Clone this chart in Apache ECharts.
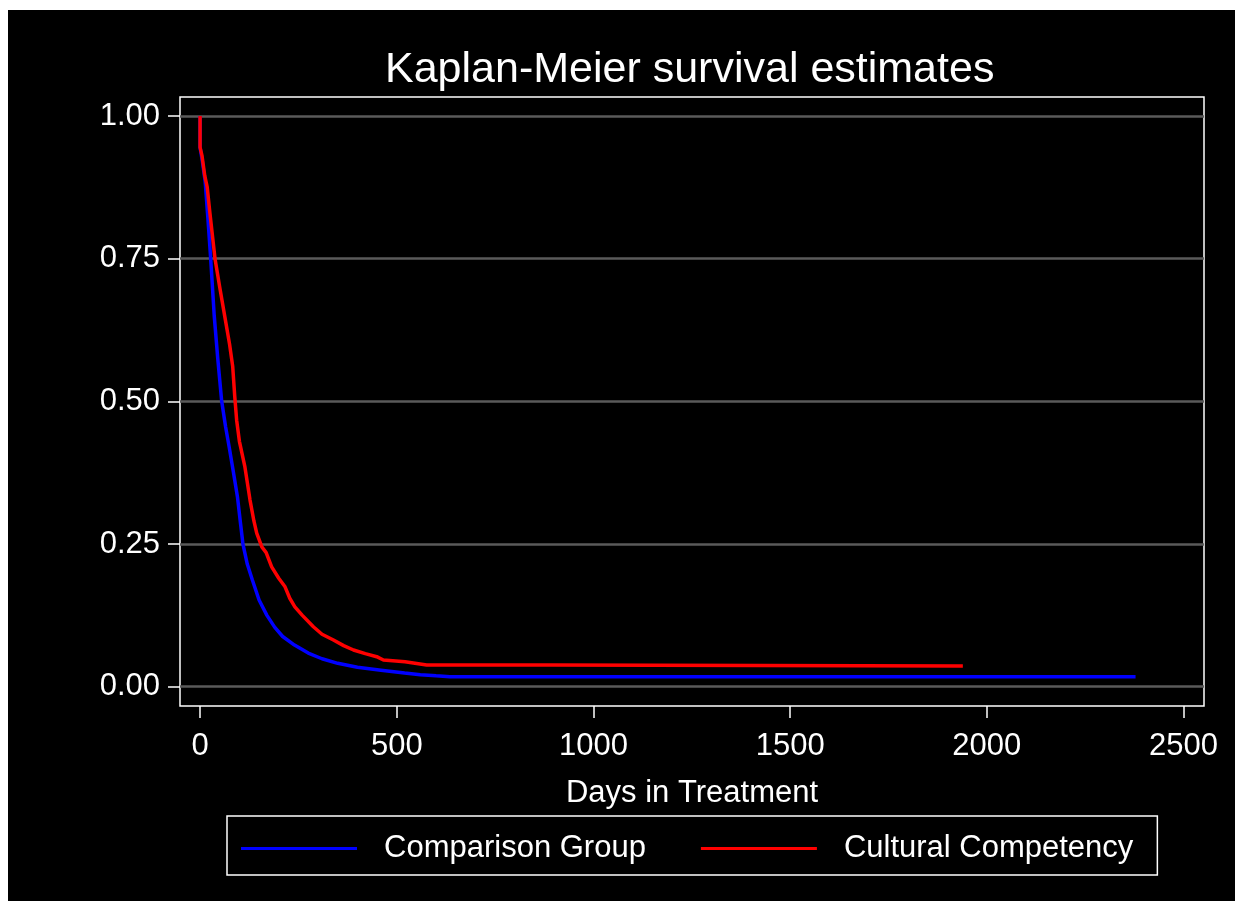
<!DOCTYPE html>
<html>
<head>
<meta charset="utf-8">
<script src="https://cdn.jsdelivr.net/npm/echarts@6/dist/echarts.min.js"></script>
<style>
  html, body { margin: 0; padding: 0; background: #ffffff; }
  #chart { position: absolute; left: 8px; top: 10px; width: 1227px; height: 891px; background: #000000; }
</style>
</head>
<body>
<div id="chart"></div>
<script>
// ---- data ----
const titleText = 'Kaplan-Meier survival estimates';
const xAxisName = 'Days in Treatment';
const seriesNames = ['Comparison Group', 'Cultural Competency'];
const xTicks = [0, 500, 1000, 1500, 2000, 2500];
const yTicks = [0, 0.25, 0.5, 0.75, 1];

// [day, survival probability] – KM curve points
const comparisonGroup = [
  [0, 1], [0, 0.945], [6, 0.92], [13, 0.885], [20, 0.82], [27, 0.75], [36, 0.65],
  [45, 0.575], [55, 0.5], [65, 0.455], [74, 0.42], [85, 0.375], [95, 0.333],
  [103, 0.285], [109, 0.25], [120, 0.215], [133, 0.187], [150, 0.152], [170, 0.125],
  [190, 0.104], [210, 0.088], [240, 0.073], [275, 0.059], [310, 0.049], [350, 0.041],
  [400, 0.034], [460, 0.029], [520, 0.024], [560, 0.021], [600, 0.019], [635, 0.0175],
  [2378, 0.0175]
];
const culturalCompetency = [
  [0, 1], [0, 0.945], [5, 0.93], [12, 0.895], [18, 0.876], [25, 0.83], [38, 0.75],
  [50, 0.7], [63, 0.648], [75, 0.6], [83, 0.561], [88, 0.51], [93, 0.467], [100, 0.43],
  [114, 0.385], [127, 0.327], [137, 0.29], [144, 0.269], [157, 0.245], [168, 0.235],
  [182, 0.21], [200, 0.19], [216, 0.175], [228, 0.155], [241, 0.14], [260, 0.125],
  [288, 0.105], [310, 0.092], [339, 0.0818], [365, 0.072], [390, 0.0643], [420, 0.058],
  [449, 0.0526], [466, 0.0468], [521, 0.0438], [576, 0.038], [894, 0.038], [894, 0.0363],
  [1939, 0.0363]
];

const FONT = "'Liberation Sans', Arial, Helvetica, sans-serif";
const chart = echarts.init(document.getElementById('chart'));
chart.setOption({
  backgroundColor: '#000000',
  animation: false,
  title: {
    text: titleText,
    left: 377,
    top: 39,
    padding: 0,
    textStyle: { color: '#ffffff', fontSize: 43, fontWeight: 'normal', fontFamily: FONT }
  },
  grid: {
    left: 172, top: 87, width: 1024, height: 609,
    show: true, borderColor: '#ffffff', borderWidth: 1.5, backgroundColor: 'transparent'
  },
  legend: {
    left: 219, top: 806,
    orient: 'horizontal',
    padding: [17, 24, 11, 14],
    borderColor: '#ffffff', borderWidth: 1.5,
    itemWidth: 116, itemHeight: 3, itemGap: 55,
    icon: 'rect',
    textStyle: { color: '#ffffff', fontSize: 31, fontFamily: FONT, padding: [0, 0, 0, 22] },
    data: seriesNames
  },
  xAxis: {
    type: 'value',
    min: -51, max: 2552,
    name: xAxisName,
    nameLocation: 'middle',
    nameGap: 72,
    nameTextStyle: { color: '#ffffff', fontSize: 31, fontFamily: FONT },
    axisLine: { show: false, onZero: false },
    axisTick: { show: true, customValues: xTicks, length: 12, lineStyle: { color: '#ffffff', width: 1.5 } },
    axisLabel: { customValues: xTicks, margin: 25, color: '#ffffff', fontSize: 31, fontFamily: FONT,
      formatter: v => String(Math.round(v)) },
    splitLine: { show: false }
  },
  yAxis: {
    type: 'value',
    min: -0.0338, max: 1.0333,
    axisLine: { show: false, onZero: false },
    axisTick: { show: true, customValues: yTicks, length: 12, lineStyle: { color: '#ffffff', width: 1.5 } },
    axisLabel: { customValues: yTicks, margin: 20, color: '#ffffff', fontSize: 31, fontFamily: FONT,
      padding: [6, 0, 0, 0],
      formatter: v => v.toFixed(2) },
    splitLine: { show: true, lineStyle: { color: '#5a5a5a', width: 2.5 } }
  },
  series: [
    {
      name: seriesNames[0], type: 'line', showSymbol: false,
      data: comparisonGroup,
      color: '#0000ff',
      itemStyle: { color: '#0000ff' },
      lineStyle: { color: '#0000ff', width: 3.5 }
    },
    {
      name: seriesNames[1], type: 'line', showSymbol: false,
      data: culturalCompetency,
      color: '#ff0000',
      itemStyle: { color: '#ff0000' },
      lineStyle: { color: '#ff0000', width: 3.5 }
    }
  ]
});
</script>
</body>
</html>
